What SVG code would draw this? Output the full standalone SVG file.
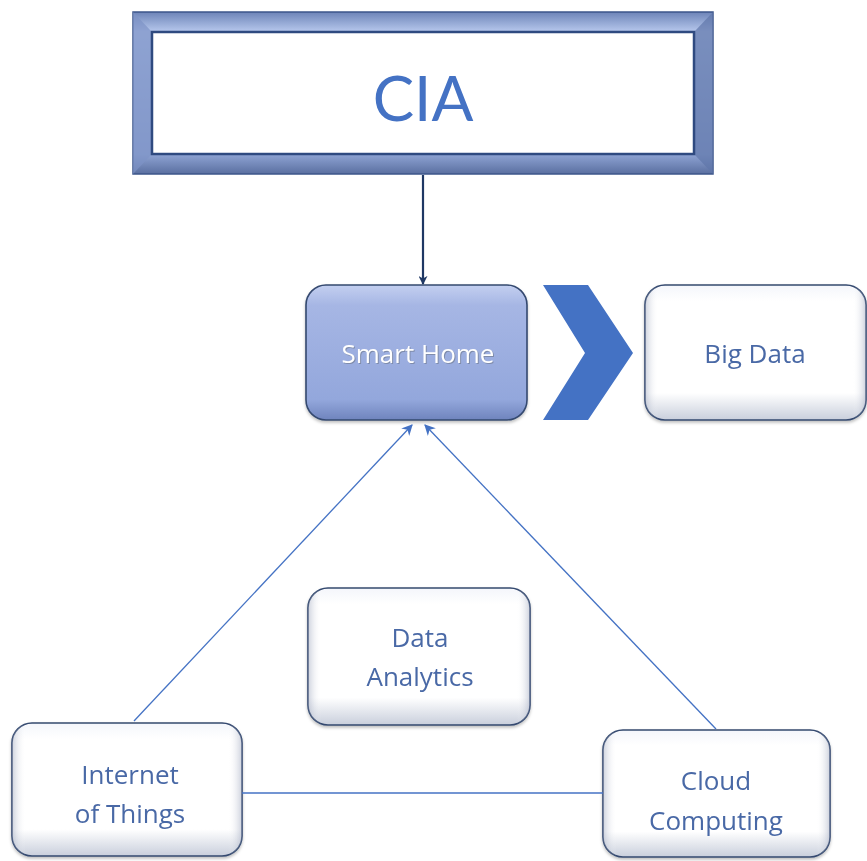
<svg xmlns="http://www.w3.org/2000/svg" width="867" height="861" viewBox="0 0 867 861">
<defs>
<linearGradient id="frameV" x1="0" y1="0" x2="0" y2="1">
<stop offset="0" stop-color="#6d84b8"/>
<stop offset="0.12" stop-color="#b6c7ec"/>
<stop offset="0.88" stop-color="#8ea3d3"/>
<stop offset="1" stop-color="#5a6fa0"/>
</linearGradient>
<linearGradient id="blueFill" x1="0" y1="0" x2="0" y2="1">
<stop offset="0" stop-color="#c3cff0"/>
<stop offset="0.15" stop-color="#a6b6e4"/>
<stop offset="0.85" stop-color="#93a7dc"/>
<stop offset="1" stop-color="#6f84bd"/>
</linearGradient>
<linearGradient id="whiteFill" x1="0" y1="0" x2="0" y2="1">
<stop offset="0" stop-color="#f4f6fb"/>
<stop offset="0.12" stop-color="#ffffff"/>
<stop offset="0.8" stop-color="#ffffff"/>
<stop offset="1" stop-color="#c9cfdc"/>
</linearGradient>
<linearGradient id="sideShade" x1="0" y1="0" x2="1" y2="0">
<stop offset="0" stop-color="#8f99b3" stop-opacity="0.45"/>
<stop offset="0.06" stop-color="#ffffff" stop-opacity="0"/>
<stop offset="0.94" stop-color="#ffffff" stop-opacity="0"/>
<stop offset="1" stop-color="#8f99b3" stop-opacity="0.45"/>
</linearGradient>
<marker id="ah" viewBox="0 0 10 10" refX="9" refY="5" markerWidth="9" markerHeight="9" markerUnits="userSpaceOnUse" orient="auto">
<path d="M0,0 L10,5 L0,10 L3,5 Z" fill="#1f3864"/>
</marker>
<marker id="ahb" viewBox="0 0 10 10" refX="9" refY="5" markerWidth="11" markerHeight="11" markerUnits="userSpaceOnUse" orient="auto">
<path d="M0,0 L10,5 L0,10 L3,5 Z" fill="#4472c4"/>
</marker>
<filter id="sh" x="-10%" y="-10%" width="120%" height="125%">
<feDropShadow dx="0" dy="2" stdDeviation="1.5" flood-color="#000" flood-opacity="0.25"/>
</filter>
</defs>
<style>
.box{stroke:#34496f;stroke-width:1.6}
.wbox{fill:url(#whiteFill)}
.shade{fill:url(#sideShade);stroke:none}
.lbl{font-family:"Open Sans","Noto Sans","Liberation Sans",sans-serif;font-size:26px;font-weight:500;fill:#4a69a6;text-anchor:middle}
.conn{stroke:#4472c4;stroke-width:1.3;fill:none}
</style>
<rect width="867" height="861" fill="#ffffff"/>

<g id="cia">
<rect x="133" y="12" width="580" height="162" fill="url(#frameV)" stroke="#3c568a" stroke-width="1.5"/>
<polygon points="133,12 152,32 152,154 133,174" fill="#7d93c6" opacity="0.7"/>
<polygon points="713,12 694,32 694,154 713,174" fill="#5f76aa" opacity="0.7"/>
<rect x="152" y="32" width="542" height="122" fill="#ffffff" stroke="#2f4a80" stroke-width="2.5"/>
<text x="423" y="121" font-family="Lato,'Open Sans','Liberation Sans',sans-serif" font-size="62" fill="#4472c4" text-anchor="middle">CIA</text>
</g>

<g id="smart-home" filter="url(#sh)">
<rect class="box" x="306" y="285" width="221" height="135" rx="20" fill="url(#blueFill)"/>
<text class="lbl" x="418" y="363" dx="1" dy="1" style="fill:#7f8cab">Smart Home</text>
<text class="lbl" x="418" y="363" style="fill:#ffffff">Smart Home</text>
</g>

<g id="chevron">
<polygon points="543,285 588,285 633,353 588,420 543,420 585,353" fill="#4472c4"/>
</g>

<g id="big-data" filter="url(#sh)">
<rect class="box wbox" x="645" y="285" width="221" height="135" rx="20"/>
<rect class="shade" x="645" y="285" width="221" height="135" rx="20"/>
<text class="lbl" x="755" y="363">Big Data</text>
</g>

<g id="data-analytics" filter="url(#sh)">
<rect class="box wbox" x="308" y="588" width="222" height="137" rx="20"/>
<rect class="shade" x="308" y="588" width="222" height="137" rx="20"/>
<text class="lbl" x="420" y="647">Data</text>
<text class="lbl" x="420" y="686">Analytics</text>
</g>

<g id="iot" filter="url(#sh)">
<rect class="box wbox" x="12" y="723" width="230" height="133" rx="20"/>
<rect class="shade" x="12" y="723" width="230" height="133" rx="20"/>
<text class="lbl" x="130" y="784">Internet</text>
<text class="lbl" x="130" y="823">of Things</text>
</g>

<g id="cloud" filter="url(#sh)">
<rect class="box wbox" x="603" y="730" width="227" height="127" rx="20"/>
<rect class="shade" x="603" y="730" width="227" height="127" rx="20"/>
<text class="lbl" x="716" y="790">Cloud</text>
<text class="lbl" x="716" y="830">Computing</text>
</g>

<g id="connectors">
<line x1="423" y1="175" x2="423" y2="284" stroke="#1f3864" stroke-width="2.2" marker-end="url(#ah)"/>
<line class="conn" x1="134" y1="721" x2="412" y2="425" marker-end="url(#ahb)"/>
<line class="conn" x1="716" y1="729" x2="425" y2="425" marker-end="url(#ahb)"/>
<line class="conn" x1="242" y1="793" x2="603" y2="793"/>
</g>
</svg>
